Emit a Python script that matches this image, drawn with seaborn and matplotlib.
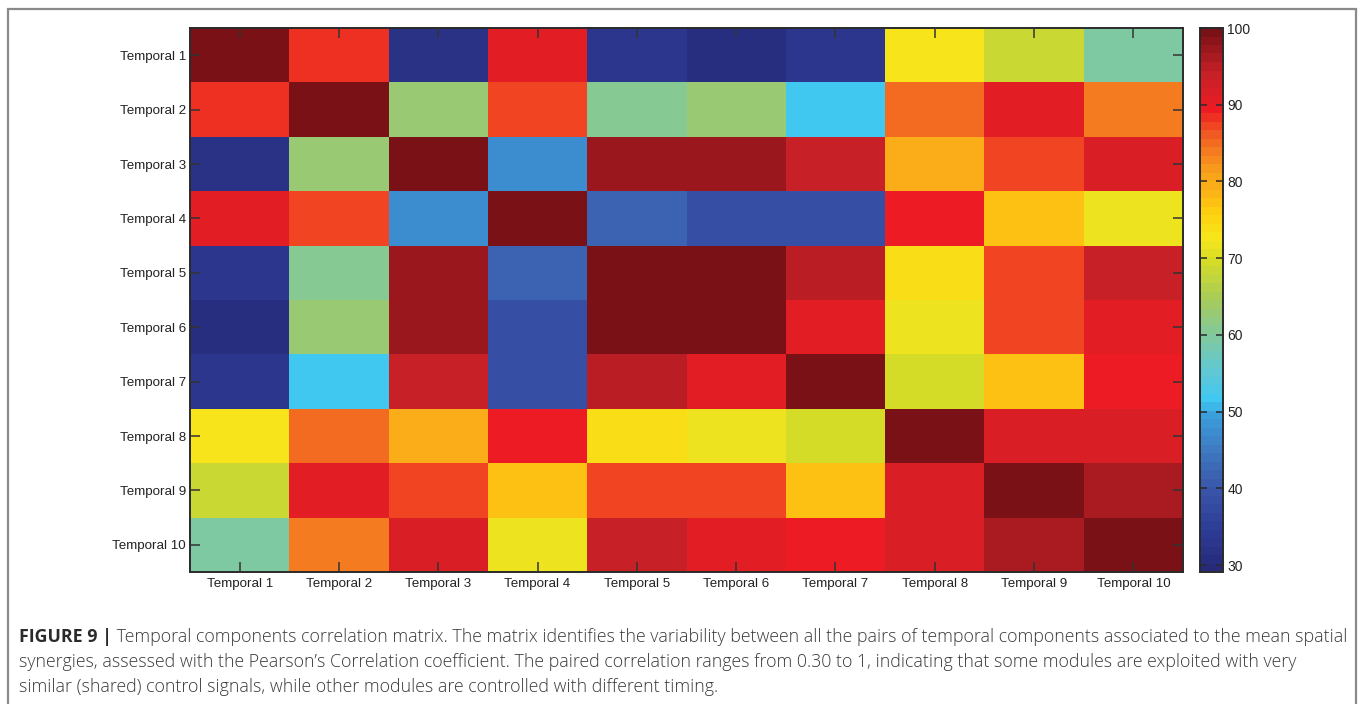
import matplotlib
matplotlib.use("Agg")
import matplotlib.pyplot as plt
from matplotlib.colors import LinearSegmentedColormap
from matplotlib.patches import Rectangle
import numpy as np
import pandas as pd
import seaborn as sns

# Component labels
components = [f"Temporal {i}" for i in range(1, 11)]

# Pairwise correlation (%) between temporal components, one list per row
row_t1 = [100, 88, 32, 91, 33, 31, 33, 73, 68, 60]
row_t2 = [88, 100, 63, 87, 61, 63, 52, 85, 91, 84]
row_t3 = [32, 63, 100, 47, 97, 97, 94, 80, 87, 92]
row_t4 = [91, 87, 47, 100, 42, 39, 38, 89, 77, 72]
row_t5 = [33, 61, 97, 42, 100, 100, 95, 74, 87, 94]
row_t6 = [31, 63, 97, 39, 100, 100, 91, 72, 87, 91]
row_t7 = [33, 52, 94, 38, 95, 91, 100, 70, 77, 89]
row_t8 = [73, 85, 80, 89, 74, 72, 70, 100, 92, 92]
row_t9 = [68, 91, 87, 77, 87, 87, 77, 92, 100, 96]
row_t10 = [60, 84, 92, 72, 94, 91, 89, 92, 96, 100]

cbar_ticks = [30, 40, 50, 60, 70, 80, 90, 100]
color_min, color_max = 29.1, 100

caption_head = "FIGURE 9 |"
caption_lines = [
    " Temporal components correlation matrix. The matrix identifies the variability between all the pairs of temporal components associated to the mean spatial",
    "synergies, assessed with the Pearson\u2019s Correlation coefficient. The paired correlation ranges from 0.30 to 1, indicating that some modules are exploited with very",
    "similar (shared) control signals, while other modules are controlled with different timing.",
]

matrix = pd.DataFrame(
    [row_t1, row_t2, row_t3, row_t4, row_t5, row_t6, row_t7, row_t8, row_t9, row_t10],
    index=components, columns=components,
)

# Print-style jet colormap, 64 discrete levels
jet_stops = [
    (0.000, "#262a78"), (0.071, "#2d3c96"), (0.143, "#3953a8"),
    (0.214, "#3e76be"), (0.286, "#3b9fdc"), (0.314, "#3ec8f2"),
    (0.357, "#5cc7dc"), (0.429, "#7ec9a2"), (0.500, "#a6cb5c"),
    (0.571, "#d4dc27"), (0.614, "#f6e61c"), (0.660, "#fdd20f"),
    (0.700, "#fbb416"), (0.740, "#f8a01b"), (0.800, "#f26522"),
    (0.857, "#ed1c24"), (0.929, "#c22026"), (1.000, "#7a1116"),
]
jet_print = LinearSegmentedColormap.from_list("jet_print", jet_stops, N=64)

sns.set_theme(style="white")
plt.rcParams["font.family"] = ["Liberation Sans", "DejaVu Sans"]

W, H = 1360, 704
fig = plt.figure(figsize=(W / 100, H / 100), dpi=100)
fig.patch.set_facecolor("white")

# outer frame around the figure panel
fig.patches.append(Rectangle((7.5 / W, -0.05), (1356 - 7.5) / W, 1.05 - 8.5 / H,
                             transform=fig.transFigure, fill=False,
                             edgecolor="#8a8a8a", linewidth=1.6, zorder=0))

ax = fig.add_axes([190 / W, 1 - 572 / H, (1183 - 190) / W, (572 - 28) / H])
cax = fig.add_axes([1200 / W, 1 - 572 / H, (1223 - 1200) / W, (572 - 28) / H])

sns.heatmap(matrix, ax=ax, cmap=jet_print, vmin=color_min, vmax=color_max,
            cbar_ax=cax, cbar_kws={"ticks": cbar_ticks}, linewidths=0)

dark = "#222222"
ax.set_axisbelow(False)
for s in ax.spines.values():
    s.set_visible(True)
    s.set_color("#2a2a2a")
    s.set_linewidth(1.4)
ax.tick_params(axis="both", which="major", direction="in", length=7, width=1.1,
               color="#333333", labelsize=9.6, labelcolor=dark,
               top=True, right=True, bottom=True, left=True,
               labeltop=False, labelright=False)
ax.tick_params(axis="x", pad=4)
ax.tick_params(axis="y", pad=3)
ax.set_xticklabels(components, rotation=0)
ax.set_yticklabels(components, rotation=0, va="center_baseline")
ax.set_xlabel("")
ax.set_ylabel("")

cbar = ax.collections[0].colorbar
cbar.minorticks_off()
cbar.outline.set_visible(True)
cbar.outline.set_edgecolor("#2a2a2a")
cbar.outline.set_linewidth(1.4)
cbar.solids.set_zorder(0.5)
cax.set_axisbelow(False)
cax.yaxis.set_ticks_position("both")
cax.yaxis.set_tick_params(which="major", direction="in", length=5, width=1.1,
                          color="#2a2a2a", labelsize=10, labelcolor=dark,
                          left=True, right=True, labelleft=False,
                          labelright=True, pad=3)

# caption, sized so the first line spans the panel width
cap_font = ["Open Sans", "Liberation Sans", "DejaVu Sans"]
cap_color = "#3a3a3a"
x0 = 19 / W
ys = [642 / H, 667 / H, 692 / H]
target_px = 1343 - 19

renderer = fig.canvas.get_renderer()
probe_h = fig.text(0, 0, caption_head, fontsize=12, fontweight="bold", family=cap_font)
probe_b = fig.text(0, 0, caption_lines[0], fontsize=12, fontweight="light", family=cap_font)
w12 = probe_h.get_window_extent(renderer).width + probe_b.get_window_extent(renderer).width
probe_h.remove()
probe_b.remove()
cap_size = 12 * target_px / w12

head = fig.text(x0, 1 - ys[0], caption_head, fontsize=cap_size, fontweight="bold",
                family=cap_font, color="#2a2a2a", va="baseline", ha="left")
bb = head.get_window_extent(renderer)
fig.text(bb.x1 / W, 1 - ys[0], caption_lines[0], fontsize=cap_size, fontweight="light",
         family=cap_font, color=cap_color, va="baseline", ha="left")
for y, line in zip(ys[1:], caption_lines[1:]):
    fig.text(x0, 1 - y, line, fontsize=cap_size, fontweight="light", family=cap_font,
             color=cap_color, va="baseline", ha="left")

fig.savefig("out.png", dpi=100, facecolor="white")
